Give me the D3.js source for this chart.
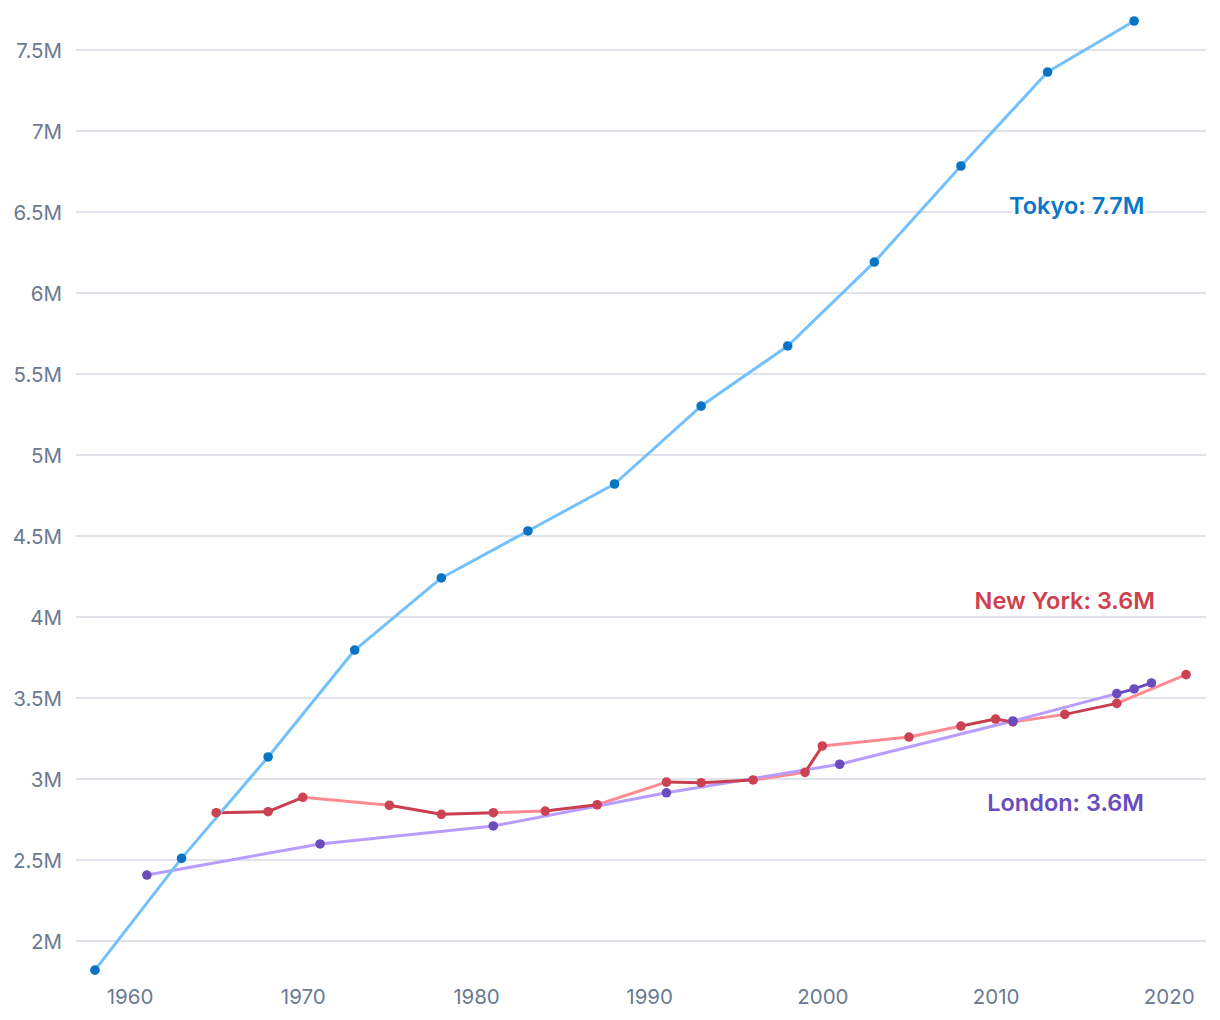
<!DOCTYPE html>
<html><head><meta charset="utf-8">
<script src="https://cdn.jsdelivr.net/npm/d3@7"></script>
<style>body{margin:0;background:#fff;}svg{display:block;}</style>
</head><body>
<svg id="chart" width="1220" height="1020"></svg>
<script>
// Population in millions
const tokyoYears  = [1958,1963,1968,1973,1978,1983,1988,1993,1998,2003,2008,2013,2018];
const tokyoValues = [1.82,2.51,3.136,3.796,4.241,4.531,4.821,5.302,5.673,6.191,6.784,7.364,7.679];

const nyYears  = [1965,1968,1970,1975,1978,1981,1984,1987,1991,1993,1996,1999,2000,2005,2008,2010,2011,2014,2017,2021];
const nyValues = [2.792,2.798,2.887,2.838,2.782,2.792,2.802,2.841,2.981,2.977,2.994,3.041,3.204,3.259,3.327,3.370,3.352,3.399,3.467,3.644];
// 1 = dark segment, 0 = light segment (segment i joins point i and i+1)
const nySegments = [1,1,0,1,1,0,1,0,1,1,0,1,0,0,1,1,0,1,0];

const londonYears  = [1961,1971,1981,1991,2001,2011,2017,2018,2019];
const londonValues = [2.407,2.599,2.710,2.915,3.091,3.358,3.527,3.556,3.593];
const londonSegments = [0,0,0,0,0,0,1,1];

const yTicks = [2,2.5,3,3.5,4,4.5,5,5.5,6,6.5,7,7.5];
const xTicks = [1960,1970,1980,1990,2000,2010,2020];

const labels = [
  {text:"Tokyo: 7.7M",    year:2018.6, value:6.488, color:"#0a78c6"},
  {text:"New York: 3.6M", year:2019.2, value:4.049, color:"#cf3f4e"},
  {text:"London: 3.6M",   year:2018.57,value:2.802, color:"#6a4dbd"}
];

const svg = d3.select("#chart");
const x = d3.scaleLinear().domain([1957,2022]).range([77.6,1203.4]);
const y = d3.scaleLinear().domain([1.75,7.75]).range([981.5,9.5]);
const fmt = v => (Math.round(v*10)/10) + "M";
const tickFont = "Inter, 'Open Sans', sans-serif";

// grid + y labels
const yAxis = d3.axisLeft(y).tickValues(yTicks).tickSize(0).tickPadding(0).tickFormat(fmt);
const gy = svg.append("g").attr("transform","translate(62,0)").call(yAxis);
gy.select(".domain").remove();
gy.selectAll("text").attr("font-family",tickFont).attr("font-size",20.5).attr("fill","#6b7a92").attr("dy","0.35em");
svg.append("g").selectAll("line").data(yTicks).join("line")
  .attr("x1",76).attr("x2",1206).attr("y1",d=>y(d)).attr("y2",d=>y(d))
  .attr("stroke","#d6dae3").attr("stroke-width",1.5);

// x labels
const xAxis = d3.axisBottom(x).tickValues(xTicks).tickSize(0).tickPadding(0).tickFormat(d3.format("d"));
const gx = svg.append("g").attr("transform","translate(0,997)").call(xAxis);
gx.select(".domain").remove();
gx.selectAll("text").attr("font-family",tickFont).attr("font-size",20.5).attr("fill","#6b7a92").attr("dy","0.35em");

function segs(years, values, flags){
  const out=[];
  for(let i=0;i<years.length-1;i++) out.push({x1:years[i],y1:values[i],x2:years[i+1],y2:values[i+1],f:flags[i]});
  return out;
}
function drawSegs(data, color){
  svg.append("g").selectAll("line").data(data).join("line")
    .attr("x1",d=>x(d.x1)).attr("y1",d=>y(d.y1)).attr("x2",d=>x(d.x2)).attr("y2",d=>y(d.y2))
    .attr("stroke",color).attr("stroke-width",3).attr("stroke-linecap","round");
}
const nyS = segs(nyYears,nyValues,nySegments);
const lnS = segs(londonYears,londonValues,londonSegments);
drawSegs(nyS.filter(d=>!d.f), "#ff8b92");
drawSegs(lnS.filter(d=>!d.f), "#b89cff");
drawSegs(nyS.filter(d=>d.f), "#c93f4f");
drawSegs(lnS.filter(d=>d.f), "#6a4dbd");

const line = d3.line().x(d=>x(d[0])).y(d=>y(d[1]));
svg.append("path").datum(d3.zip(tokyoYears,tokyoValues)).attr("d",line)
  .attr("fill","none").attr("stroke","#74c0fc").attr("stroke-width",3).attr("stroke-linejoin","round");

function dots(years, values, color){
  svg.append("g").selectAll("circle").data(d3.zip(years,values)).join("circle")
    .attr("cx",d=>x(d[0])).attr("cy",d=>y(d[1])).attr("r",4.8).attr("fill",color);
}
dots(nyYears,nyValues,"#cc4252");
dots(londonYears,londonValues,"#6a4dbd");
dots(tokyoYears,tokyoValues,"#0a74c4");

svg.append("g").selectAll("text").data(labels).join("text")
  .attr("x",d=>x(d.year)).attr("y",d=>y(d.value)).attr("text-anchor","end")
  .attr("font-family","Inter, 'Open Sans', sans-serif").attr("font-weight",600).attr("font-size",23.5)
  .attr("fill",d=>d.color).attr("stroke","#fff").attr("stroke-width",5).attr("paint-order","stroke")
  .text(d=>d.text);
</script>
</body></html>
